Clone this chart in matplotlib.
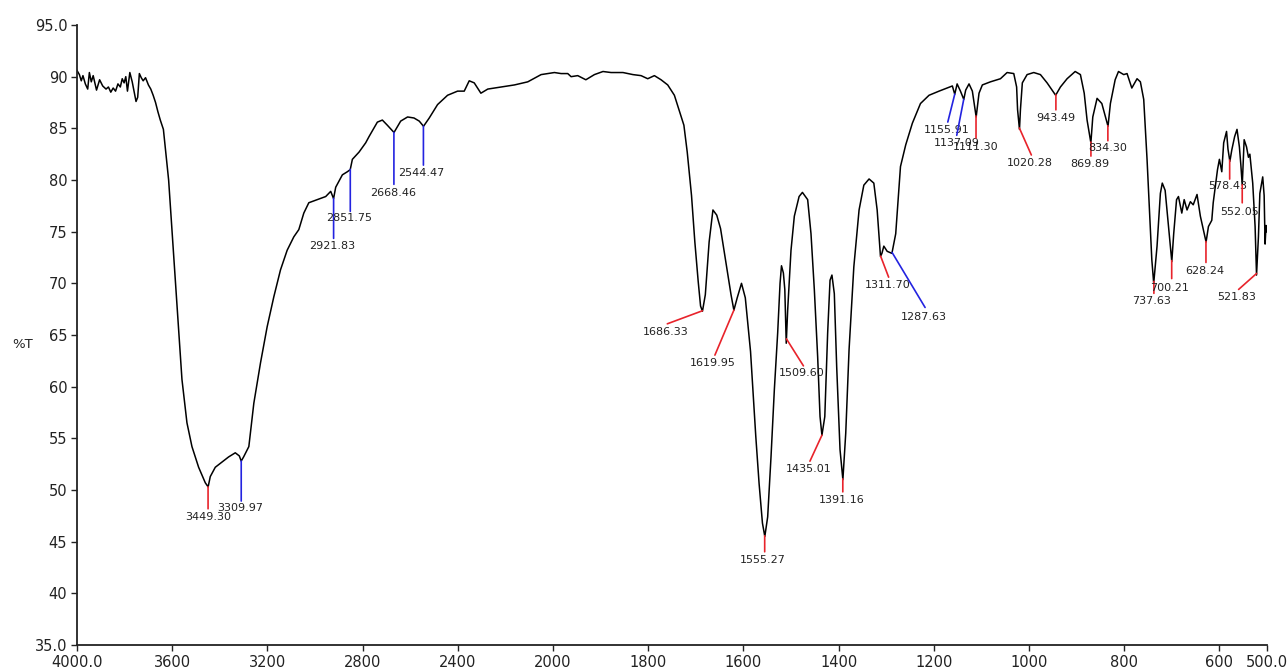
import numpy as np
import matplotlib
matplotlib.use("Agg")
from matplotlib import pyplot as plt

# spectrum (wavenumber cm-1, %T)
wavenumber = [
    4000, 3990, 3982, 3975, 3965, 3955, 3948, 3940, 3932, 3918, 3905, 3892,
    3878, 3868, 3858, 3848, 3838, 3828, 3818, 3810, 3802, 3795, 3788, 3778,
    3768, 3752, 3745, 3738, 3730, 3722, 3712, 3700, 3690, 3680, 3670, 3660,
    3650, 3637, 3626, 3615, 3601, 3587, 3573, 3559, 3538, 3517, 3489, 3461,
    3449, 3440, 3419, 3391, 3363, 3335, 3318, 3310, 3300, 3278, 3257, 3229,
    3201, 3173, 3145, 3117, 3089, 3068, 3047, 3026, 2990, 2955, 2934, 2922,
    2913, 2885, 2864, 2852, 2843, 2815, 2787, 2773, 2738, 2717, 2696, 2668,
    2640, 2611, 2584, 2562, 2544, 2520, 2485, 2443, 2401, 2373, 2352, 2331,
    2303, 2274, 2218, 2162, 2106, 2050, 1997, 1983, 1969, 1962, 1948, 1931,
    1913, 1895, 1878, 1853, 1832, 1815, 1801, 1787, 1773, 1759, 1745, 1734,
    1725, 1718, 1709, 1702, 1695, 1690, 1686, 1680, 1672, 1664, 1656, 1648,
    1637, 1626, 1620, 1613, 1604, 1596, 1585, 1574, 1567, 1560, 1555, 1549,
    1542, 1535, 1528, 1523, 1520, 1516, 1513, 1510, 1507, 1500, 1493, 1483,
    1476, 1465, 1458, 1451, 1444, 1439, 1435, 1429, 1423, 1418, 1414, 1409,
    1404, 1397, 1391, 1385, 1378, 1368, 1357, 1347, 1336, 1326, 1319, 1312,
    1309, 1305, 1298, 1288, 1280, 1275, 1270, 1259, 1245, 1228, 1210, 1189,
    1172, 1161, 1156, 1151, 1144, 1137, 1133, 1126, 1119, 1111, 1105, 1098,
    1081, 1060, 1046, 1032, 1026, 1024, 1020, 1018, 1014, 1004, 990, 976,
    962, 944, 934, 920, 903, 892, 884, 878, 870, 866, 857, 847,
    834, 829, 819, 812, 801, 794, 784, 773, 766, 759, 752, 747,
    742, 738, 731, 724, 720, 714, 707, 700, 696, 690, 686, 679,
    674, 668, 661, 655, 647, 640, 628, 623, 616, 613, 604, 600,
    595, 591, 585, 582, 578, 574, 568, 563, 558, 555, 552, 548,
    543, 539, 536, 530, 525, 522, 518, 515, 509, 506, 504, 502, 501,
]
transmittance = [
    90.6, 90.2, 89.6, 90.1, 89.3, 88.8, 90.4, 89.5, 90.1, 88.7, 89.7, 89.1,
    88.8, 89.0, 88.5, 88.9, 88.6, 89.3, 89.0, 89.8, 89.4, 90.0, 88.6, 90.4,
    89.5, 87.6, 88.0, 90.3, 89.9, 89.6, 89.9, 89.2, 88.8, 88.2, 87.5, 86.6,
    85.8, 84.9, 82.5, 80.0, 75.2, 70.3, 65.5, 60.7, 56.5, 54.2, 52.2, 50.7,
    50.3, 51.3, 52.2, 52.7, 53.2, 53.6, 53.3, 52.8, 53.2, 54.2, 58.4, 62.3,
    65.8, 68.7, 71.3, 73.2, 74.5, 75.2, 76.8, 77.8, 78.1, 78.4, 78.9, 78.2,
    79.3, 80.5, 80.8, 81.0, 82.0, 82.7, 83.6, 84.2, 85.6, 85.8, 85.3, 84.6,
    85.7, 86.1, 86.0, 85.7, 85.2, 86.0, 87.3, 88.2, 88.6, 88.6, 89.6, 89.4,
    88.4, 88.8, 89.0, 89.2, 89.5, 90.2, 90.4, 90.3, 90.3, 90.0, 90.1, 89.7,
    90.2, 90.5, 90.4, 90.4, 90.2, 90.1, 89.8, 90.1, 89.7, 89.2, 88.2, 86.6,
    85.3, 82.7, 78.5, 74.0, 70.2, 67.8, 67.3, 68.9, 74.0, 77.1, 76.6, 75.3,
    72.1, 68.9, 67.4, 68.6, 70.0, 68.6, 63.4, 55.2, 50.6, 46.8, 45.5, 47.4,
    53.2, 59.7, 65.2, 70.0, 71.7, 71.0, 69.4, 64.2, 67.4, 73.2, 76.5, 78.4,
    78.8, 78.1, 74.8, 69.4, 62.9, 57.1, 55.3, 57.1, 65.2, 70.3, 70.8, 69.0,
    61.9, 53.9, 51.0, 55.5, 63.6, 71.6, 77.1, 79.5, 80.1, 79.7, 77.1, 72.6,
    72.9, 73.6, 73.1, 72.9, 74.8, 78.1, 81.3, 83.4, 85.5, 87.4, 88.2, 88.6,
    88.9, 89.1, 88.3, 89.3, 88.6, 87.8, 88.7, 89.3, 88.6, 86.1, 88.4, 89.2,
    89.5, 89.8, 90.4, 90.3, 89.0, 86.8, 84.9, 86.8, 89.4, 90.2, 90.4, 90.2,
    89.4, 88.2, 89.0, 89.8, 90.5, 90.2, 88.4, 85.8, 83.6, 86.1, 87.9, 87.4,
    85.2, 87.4, 89.7, 90.5, 90.2, 90.3, 88.9, 89.8, 89.5, 87.8, 82.0, 77.1,
    72.3, 70.0, 73.6, 78.7, 79.7, 79.0, 75.5, 72.1, 74.8, 78.1, 78.4, 76.8,
    78.1, 77.1, 77.9, 77.6, 78.6, 76.5, 74.0, 75.5, 76.1, 77.8, 81.0, 82.0,
    80.8, 83.6, 84.7, 83.0, 81.8, 82.9, 84.2, 84.9, 83.2, 81.5, 79.5, 83.9,
    83.2, 82.2, 82.5, 79.7, 75.5, 70.8, 74.5, 78.7, 80.3, 78.5, 73.8, 75.6, 75.0,
]

peak_labels = [
    "3449.30", "3309.97", "2921.83", "2851.75", "2668.46", "2544.47",
    "1686.33", "1619.95", "1555.27", "1509.60", "1435.01", "1391.16",
    "1311.70", "1287.63", "1155.91", "1137.09", "1111.30", "1020.28",
    "943.49", "869.89", "834.30", "737.63", "700.21", "628.24",
    "578.43", "552.05", "521.83",
]

# (line dx, line dy, text dx, text dy, colour) in pixels from the peak point
marks = [
    (0, -22, 0, -30, "r"), (0, -40, -1, -47, "b"), (0, -40, -1, -48, "b"),
    (0, -42, -1, -49, "b"), (0, -52, -1, -61, "b"), (0, -39, -2, -47, "b"),
    (-35, -13, -37, -21, "r"), (-19, -45, -21, -53, "r"), (0, -16, -2, -24, "r"),
    (17, -27, 15, -34, "r"), (-12, -26, -13, -34, "r"), (0, -13, -1, -21, "r"),
    (8, -21, 7, -29, "r"), (33, -55, 32, -65, "b"), (-7, -28, -8, -36, "b"),
    (-7, -36, -7, -44, "b"), (0, -22, 0, -31, "r"), (12, -27, 10, -35, "r"),
    (0, -15, 0, -23, "r"), (0, -14, -1, -22, "r"), (0, -15, 0, -22, "r"),
    (0, -12, -2, -20, "r"), (0, -18, -2, -27, "r"), (0, -21, -1, -30, "r"),
    (0, -19, -2, -26, "r"), (0, -18, -3, -27, "r"), (-18, -16, -20, -24, "r"),
]
colors = {"r": "#e8232b", "b": "#2323e0"}

xticks = [4000, 3600, 3200, 2800, 2400, 2000, 1800, 1600, 1400, 1200, 1000, 800, 600, 500]
xticklabels = ["4000.0", "3600", "3200", "2800", "2400", "2000", "1800", "1600",
               "1400", "1200", "1000", "800", "600", "500.0"]
yticks = [35, 40, 45, 50, 55, 60, 65, 70, 75, 80, 85, 90, 95]
yticklabels = ["35.0", "40", "45", "50", "55", "60", "65", "70", "75", "80", "85", "90", "95.0"]


def fwd(w):
    w = np.asarray(w, dtype=float)
    return np.where(w > 2000, 2000 + (w - 2000) / 2, w)


def inv(u):
    u = np.asarray(u, dtype=float)
    return np.where(u > 2000, 2000 + (u - 2000) * 2, u)


fig = plt.figure(figsize=(12.88, 6.70), dpi=100)
ax = fig.add_axes([77 / 1288, 25 / 670, 1190 / 1288, 620 / 670])
ax.set_xscale("function", functions=(fwd, inv))
ax.set_xlim(4000, 500)
ax.set_ylim(35, 95)

ax.plot(wavenumber, transmittance, color="black", lw=1.1)

wn_up = np.array(wavenumber[::-1], dtype=float)
t_up = np.array(transmittance[::-1], dtype=float)
for lab, (ldx, ldy, tdx, tdy, c) in zip(peak_labels, marks):
    w = float(lab)
    t = float(np.interp(w, wn_up, t_up))
    ax.annotate("", xy=(w, t), xytext=(ldx, ldy), textcoords="offset pixels",
                arrowprops=dict(arrowstyle="-", color=colors[c], lw=1.2,
                                shrinkA=0, shrinkB=0))
    ax.annotate(lab, xy=(w, t), xytext=(tdx, tdy), textcoords="offset pixels",
                ha="center", va="center", fontsize=8, color="#222222")

ax.set_xticks(xticks)
ax.set_xticklabels(xticklabels)
ax.set_yticks(yticks)
ax.set_yticklabels(yticklabels)
ax.minorticks_off()
ax.tick_params(direction="out", length=4, width=1, labelsize=10.5,
               colors="#222222", pad=3)
for s in ["top", "right"]:
    ax.spines[s].set_visible(False)
for s in ["left", "bottom"]:
    ax.spines[s].set_linewidth(1.3)
    ax.spines[s].set_color("#222222")

ax.text(-0.046, 0.484, "%T", transform=ax.transAxes, ha="center", va="center",
        fontsize=9.5, color="#222222")

fig.savefig("out.png", dpi=100)
